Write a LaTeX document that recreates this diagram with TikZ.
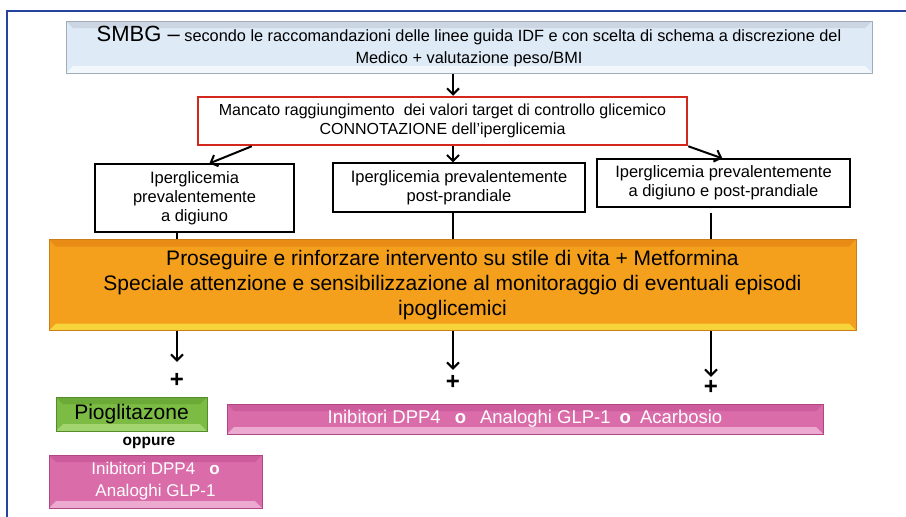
\documentclass[tikz,border=0pt]{standalone}
\usepackage{fontspec}
\setmainfont{Liberation Sans}
\usetikzlibrary{arrows.meta,calc,positioning}
\definecolor{frameblue}{RGB}{38,68,158}
\definecolor{smbgfill}{RGB}{222,234,246}
\definecolor{smbgline}{RGB}{160,172,186}
\definecolor{smbgtop}{RGB}{204,214,226}
\definecolor{smbgbot}{RGB}{242,247,252}
\definecolor{orangefill}{RGB}{244,160,28}
\definecolor{orangeline}{RGB}{205,125,25}
\definecolor{orangetop}{RGB}{232,140,22}
\definecolor{orangebot}{RGB}{247,212,58}
\definecolor{pinkfill}{RGB}{218,108,170}
\definecolor{pinkline}{RGB}{178,70,132}
\definecolor{pinktop}{RGB}{205,92,156}
\definecolor{pinkbot}{RGB}{236,170,208}
\definecolor{greenfill}{RGB}{124,188,68}
\definecolor{greenline}{RGB}{84,140,44}
\definecolor{greentop}{RGB}{108,170,56}
\definecolor{greenbot}{RGB}{162,212,112}
\definecolor{redline}{RGB}{210,40,30}
\tikzset{
  % bevelled box: fill, border, top edge, bottom edge
  bevel/.style n args={4}{fill=#1, draw=#2, line width=1pt, inner sep=0pt, align=center,
    path picture={
      \fill[#3] (path picture bounding box.north west) -- (path picture bounding box.north east)
        -- ([shift={(-7pt,-7pt)}]path picture bounding box.north east)
        -- ([shift={(7pt,-7pt)}]path picture bounding box.north west) -- cycle;
      \fill[#4] (path picture bounding box.south west) -- (path picture bounding box.south east)
        -- ([shift={(-7pt,7pt)}]path picture bounding box.south east)
        -- ([shift={(7pt,7pt)}]path picture bounding box.south west) -- cycle;
    }},
  plainbox/.style={draw=black, line width=1.2pt, fill=white, inner sep=0pt, align=center,
    font=\fontsize{16.5}{19}\selectfont},
  arr/.style={line width=2pt, -{Straight Barb[length=6pt,width=12pt,line width=2pt]}},
  link/.style={line width=2pt},
  plus/.style={font=\bfseries\fontsize{24}{24}\selectfont, inner sep=0pt}
}
\begin{document}
\begin{tikzpicture}[x=1pt,y=-1pt]
  \useasboundingbox (0,0) rectangle (906,517);
  \draw[frameblue, line width=2pt] (7,517) -- (7,11) -- (906,11);

  \node[bevel={smbgfill}{smbgline}{smbgtop}{smbgbot}, minimum width=806pt, minimum height=52pt,
    font=\fontsize{16.3}{22}\selectfont] (smbg) at (469,47)
    {{\fontsize{22}{22}\selectfont SMBG --} secondo le raccomandazioni delle linee guida IDF e con scelta di schema a discrezione del\\
     Medico + valutazione peso/BMI};
  \node[draw=redline, line width=2.5pt, fill=white, inner sep=0pt, align=center,
    minimum width=489pt, minimum height=48pt, font=\fontsize{16}{19}\selectfont] (target) at (442.5,121)
    {Mancato raggiungimento\ \ dei valori target di controllo glicemico\\
     CONNOTAZIONE dell’iperglicemia};

  \node[plainbox, minimum width=199pt, minimum height=68pt] (b1) at (194.5,198)
    {Iperglicemia\\prevalentemente\\a digiuno};
  \node[plainbox, minimum width=252pt, minimum height=49pt] (b2) at (459,187.5)
    {Iperglicemia prevalentemente\\post-prandiale};
  \node[plainbox, minimum width=253pt, minimum height=48pt] (b3) at (723.5,183)
    {Iperglicemia prevalentemente\\a digiuno e post-prandiale};

  \node[bevel={orangefill}{orangeline}{orangetop}{orangebot}, minimum width=807pt, minimum height=91pt,
    font=\fontsize{21}{25}\selectfont] (orange) at (452.5,285)
    {Proseguire e rinforzare intervento su stile di vita + Metformina\\
     Speciale attenzione e sensibilizzazione al monitoraggio di eventuali episodi\\
     ipoglicemici};

  \node[plus] (p1) at (177,380) {+};
  \node[plus] (p2) at (453,382) {+};
  \node[plus] (p3) at (711,387) {+};

  \node[bevel={greenfill}{greenline}{greentop}{greenbot}, minimum width=151pt, minimum height=34pt,
    font=\fontsize{21}{22}\selectfont] (pio) at (131.5,414) {Pioglitazone};
  \node[font=\bfseries\fontsize{15.5}{17}\selectfont, inner sep=1pt] (oppure) at (149,443) {oppure};
  \node[bevel={pinkfill}{pinkline}{pinktop}{pinkbot}, minimum width=213pt, minimum height=53pt,
    text=white, font=\fontsize{17}{22}\selectfont] (dpp) at (155.5,481.5)
    {Inibitori DPP4\hspace{14pt}\textbf{o}\\Analoghi GLP-1};
  \node[bevel={pinkfill}{pinkline}{pinktop}{pinkbot}, minimum width=596pt, minimum height=30pt,
    text=white, font=\fontsize{18.5}{20}\selectfont] (combo) at (525,419)
    {Inibitori DPP4\hspace{14pt}\textbf{o}\hspace{14pt}Analoghi GLP-1\hspace{9pt}\textbf{o}\hspace{9pt}Acarbosio};

  \draw[arr] (smbg.south -| p2) -- (target.north -| p2);
  \draw[arr] ($(target.south west)+(55,0)$) -- ($(b1.north west)+(115,0)$);
  \draw[arr] (target.south -| p2) -- (b2.north -| p2);
  \draw[arr] (target.south east) -- ($(b3.north west)+(126,0)$);

  \draw[link] (b1.south -| p1) -- (orange.north -| p1);
  \draw[link] (b2.south -| p2) -- (orange.north -| p2);
  \draw[link, shorten <=5pt] (b3.south -| p3) -- (orange.north -| p3);

  \draw[arr, shorten >=11pt] (orange.south -| p1) -- (p1.north);
  \draw[arr, shorten >=5pt] (orange.south -| p2) -- (p2.north);
  \draw[arr, shorten >=3pt] (orange.south -| p3) -- (p3.north);
\end{tikzpicture}
\end{document}
